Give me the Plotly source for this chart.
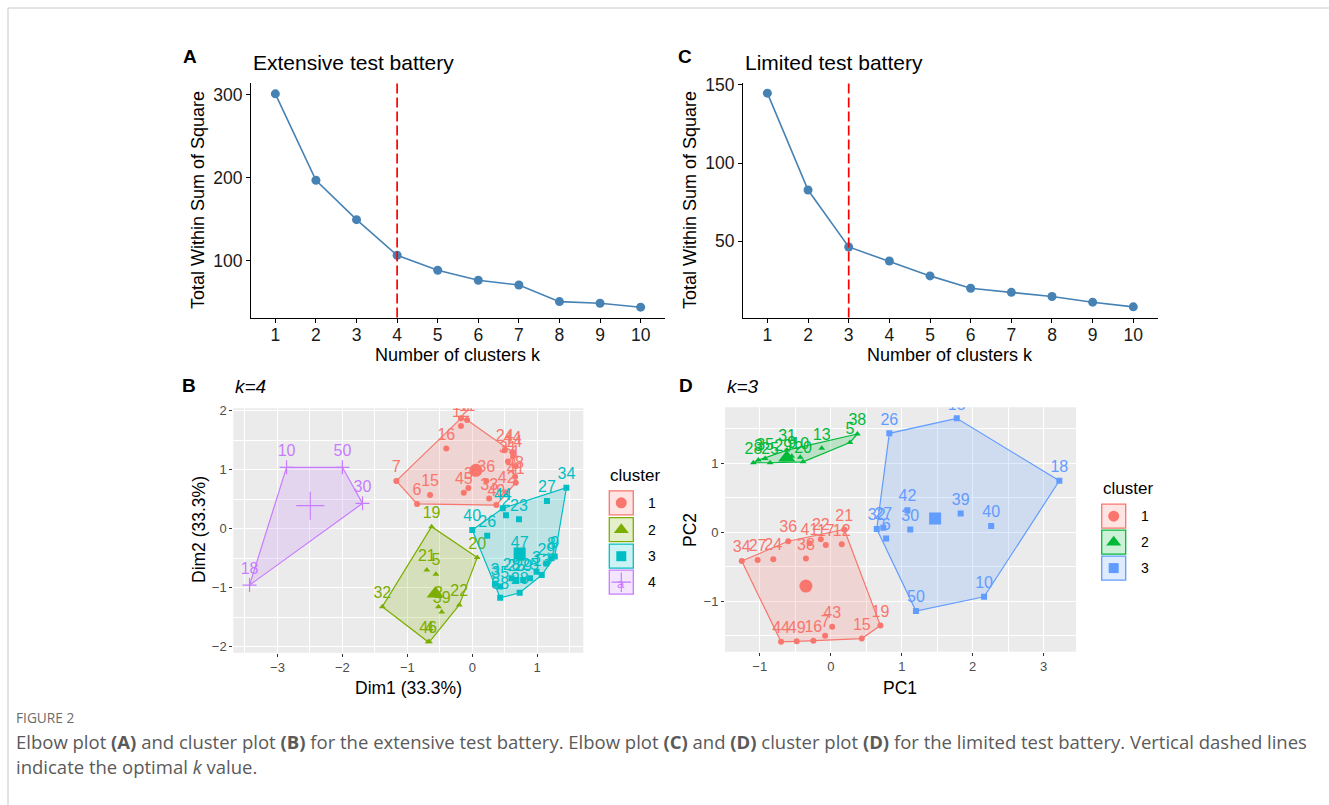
import plotly.graph_objects as go

W, H = 1329, 805

# ---------------- data ----------------
k_values = [1, 2, 3, 4, 5, 6, 7, 8, 9, 10]
wss_extensive = [301.0, 197.0, 149.7, 106.8, 88.8, 76.8, 71.1, 51.1, 49.1, 44.4]
wss_limited = [144.7, 82.8, 46.4, 37.4, 27.9, 20.0, 17.4, 14.7, 11.1, 8.1]
best_k_extensive = 4
best_k_limited = 3

# Panel B (extensive battery, k=4)
b1_x = [-0.174, -0.08, -0.174, -0.40, -1.17, -0.85, -0.65, -0.13, -0.06, 0.215, 0.26, 0.37,
        0.50, 0.62, 0.63, 0.55, 0.67, 0.66, 0.67, 0.53]
b1_y = [1.87, 1.84, 1.74, 1.36, 0.81, 0.42, 0.57, 0.61, 0.69, 0.81, 0.51, 0.40,
        1.33, 1.30, 1.23, 1.14, 1.06, 0.88, 0.78, 0.62]
b1_lab = ["17", "11", "12", "16", "7", "6", "15", "45", "3", "36", "33", "49",
          "24", "44", "14", "31", "1", "48", "41", "42"]

b2_x = [-0.626, 0.077, -0.70, -0.56, -0.52, -0.47, -0.20, -1.385, -0.68, -0.66]
b2_y = [0.034, -0.486, -0.70, -0.77, -1.32, -1.41, -1.29, -1.32, -1.915, -1.915]
b2_lab = ["19", "20", "21", "5", "2", "39", "22", "32", "46", "4"]

b3_x = [1.45, 1.15, 0.72, 0.47, 0.52, 0.0, 0.23, 0.73, 1.22, 1.27, 1.14, 0.99, 1.07,
        0.89, 0.43, 0.43, 0.73, 0.605, 0.68, 0.785, 0.35]
b3_y = [0.695, 0.47, 0.16, 0.345, 0.23, -0.02, -0.12, -0.47, -0.50, -0.47, -0.59, -0.73, -0.785,
        -0.84, -0.98, -1.17, -1.085, -0.84, -0.87, -0.87, -0.93]
b3_lab = ["34", "27", "23", "44", "2", "40", "26", "47", "8", "9", "29", "3", "13",
          "25", "35", "38", "28", "28", "25", "29", "3"]

b4_x = [-2.86, -2.0, -1.69, -3.43]
b4_y = [1.04, 1.04, 0.43, -0.955]
b4_lab = ["10", "50", "30", "18"]

b_cent_x = [0.056, -0.57, 0.73, -2.495]
b_cent_y = [0.99, -1.10, -0.42, 0.39]

# Panel D (limited battery, k=3)
d1_x = [-1.254, -1.03, -0.81, -0.60, -0.35, -0.30, -0.14, -0.07, 0.155, 0.19,
        0.70, 0.437, 0.02, -0.08, -0.245, -0.48, -0.70]
d1_y = [-0.417, -0.40, -0.39, -0.13, -0.38, -0.16, -0.10, -0.185, -0.175, 0.04,
        -1.35, -1.54, -1.37, -1.50, -1.57, -1.58, -1.587]
d1_lab = ["34", "27", "24", "36", "38", "41", "22", "17", "12", "21",
          "19", "15", "43", "7", "16", "49", "44"]

d2_x = [-1.09, -1.02, -0.925, -0.855, -0.67, -0.615, -0.55, -0.43, -0.39, -0.127, 0.27, 0.375]
d2_y = [1.007, 1.046, 1.07, 1.007, 1.05, 1.19, 1.10, 1.085, 1.02, 1.216, 1.30, 1.423]
d2_lab = ["28", "3", "35", "25", "29", "31", "9", "10", "20", "13", "5", "38"]

d3_x = [0.825, 1.775, 3.22, 2.16, 1.20, 0.648, 0.74, 0.78, 1.08, 1.12, 1.83, 2.26]
d3_y = [1.433, 1.65, 0.746, -0.935, -1.14, 0.046, 0.065, -0.09, 0.32, 0.04, 0.27, 0.09]
d3_lab = ["26", "15", "18", "10", "50", "32", "27", "6", "42", "30", "39", "40"]

d_cent_x = [-0.35, -0.62, 1.47]
d_cent_y = [-0.78, 1.08, 0.20]

cluster_names_b = ["1", "2", "3", "4"]
cluster_names_d = ["1", "2", "3"]

# ---------------- styling ----------------
COL_B = ["#F8766D", "#7CAE00", "#00BFC4", "#C77CFF"]
COL_D = ["#F8766D", "#00BA38", "#619CFF"]
SYM_B = ["circle", "triangle-up", "square", "cross-thin"]
SYM_D = ["circle", "triangle-up", "square"]
FONT = "Liberation Sans, Arial, Helvetica, sans-serif"
LINE_BLUE = "#4682B4"


def rgba(hexc, a):
    h = hexc.lstrip("#")
    return "rgba(%d,%d,%d,%s)" % (int(h[0:2], 16), int(h[2:4], 16), int(h[4:6], 16), a)


def hull(xs, ys):
    pts = sorted(set(zip(xs, ys)))
    if len(pts) < 3:
        return pts

    def cross(o, a, b):
        return (a[0] - o[0]) * (b[1] - o[1]) - (a[1] - o[1]) * (b[0] - o[0])
    lower = []
    for p in pts:
        while len(lower) >= 2 and cross(lower[-2], lower[-1], p) <= 0:
            lower.pop()
        lower.append(p)
    upper = []
    for p in reversed(pts):
        while len(upper) >= 2 and cross(upper[-2], upper[-1], p) <= 0:
            upper.pop()
        upper.append(p)
    h = lower[:-1] + upper[:-1]
    return h + [h[0]]


def dx(p0, p1):
    return [p0 / W, p1 / W]


def dy(top, bottom):
    return [1 - bottom / H, 1 - top / H]


def px(x):
    return x / W


def py(y):
    return 1 - y / H


fig = go.Figure()

# ---------------- elbow plots ----------------
fig.add_trace(go.Scatter(x=k_values, y=wss_extensive, mode="lines+markers", xaxis="x", yaxis="y",
                         line=dict(color=LINE_BLUE, width=1.6),
                         marker=dict(color=LINE_BLUE, size=9), hoverinfo="skip"))
fig.add_trace(go.Scatter(x=k_values, y=wss_limited, mode="lines+markers", xaxis="x2", yaxis="y2",
                         line=dict(color=LINE_BLUE, width=1.6),
                         marker=dict(color=LINE_BLUE, size=9), hoverinfo="skip"))

shapes = []
shapes.append(dict(type="line", xref="x", yref="y domain", x0=best_k_extensive, x1=best_k_extensive,
                   y0=0, y1=1, line=dict(color="#FF0000", width=1.7, dash="10px,4px"), layer="above"))
shapes.append(dict(type="line", xref="x2", yref="y2 domain", x0=best_k_limited, x1=best_k_limited,
                   y0=0, y1=1, line=dict(color="#FF0000", width=1.7, dash="10px,4px"), layer="above"))

# ---------------- cluster plots ----------------
def add_cluster(xs, ys, labs, color, sym, xa, ya, msize, tsize):
    h = hull(xs, ys)
    fig.add_trace(go.Scatter(x=[p[0] for p in h], y=[p[1] for p in h], mode="lines", fill="toself",
                             fillcolor=rgba(color, 0.2), line=dict(color=color, width=1.2),
                             xaxis=xa, yaxis=ya, hoverinfo="skip"))
    mk = dict(color=color, size=msize, symbol=sym)
    if sym == "cross-thin":
        mk["line"] = dict(color=color, width=1.2)
        mk["size"] = msize + 4
    fig.add_trace(go.Scatter(x=xs, y=ys, mode="markers+text", text=labs, textposition="top center",
                             textfont=dict(color=color, size=tsize, family=FONT),
                             marker=mk, xaxis=xa, yaxis=ya, hoverinfo="skip"))


def add_centroid(x, y, color, sym, size, xa, ya):
    mk = dict(color=color, size=size, symbol=sym)
    if sym == "cross-thin":
        mk["line"] = dict(color=color, width=1.2)
    fig.add_trace(go.Scatter(x=[x], y=[y], mode="markers", marker=mk, xaxis=xa, yaxis=ya,
                             hoverinfo="skip"))


b_sets = [(b1_x, b1_y, b1_lab), (b2_x, b2_y, b2_lab), (b3_x, b3_y, b3_lab), (b4_x, b4_y, b4_lab)]
for i, (xs, ys, labs) in enumerate(b_sets):
    add_cluster(xs, ys, labs, COL_B[i], SYM_B[i], "x3", "y3", 6, 16)
cent_size_b = [13, 15, 12, 20]
for i in range(4):
    add_centroid(b_cent_x[i], b_cent_y[i], COL_B[i], SYM_B[i], cent_size_b[i], "x3", "y3")

d_sets = [(d1_x, d1_y, d1_lab), (d2_x, d2_y, d2_lab), (d3_x, d3_y, d3_lab)]
for i, (xs, ys, labs) in enumerate(d_sets):
    add_cluster(xs, ys, labs, COL_D[i], SYM_D[i], "x4", "y4", 6, 16)
cent_size_d = [13, 15, 12]
for i in range(3):
    add_centroid(d_cent_x[i], d_cent_y[i], COL_D[i], SYM_D[i], cent_size_d[i], "x4", "y4")

# gray panel backgrounds
for ax in ["3", "4"]:
    shapes.append(dict(type="rect", xref="x%s domain" % ax, yref="y%s domain" % ax, x0=0, x1=1, y0=0, y1=1,
                       fillcolor="#EBEBEB", line=dict(width=0), layer="below"))

# ---------------- legends (pixel overlay axis) ----------------
annotations = []
leg_msize = {"circle": 11, "triangle-up": 13, "square": 10, "cross-thin": 14}


def add_legend(x_left, y_title, y_centers, names, colors, syms):
    annotations.append(dict(x=px(x_left), y=py(y_title), xref="paper", yref="paper", text="cluster",
                            showarrow=False, xanchor="left", yanchor="middle",
                            font=dict(size=17, color="#000000", family=FONT)))
    for yc, nm, col, sym in zip(y_centers, names, colors, syms):
        shapes.append(dict(type="rect", xref="x5", yref="y5", x0=x_left + 1, x1=x_left + 25,
                           y0=yc - 12, y1=yc + 12, fillcolor=rgba(col, 0.2),
                           line=dict(color=col, width=1.3), layer="above"))
        if sym == "cross-thin":
            annotations.append(dict(x=px(x_left + 13), y=py(yc + 1), xref="paper", yref="paper", text="a",
                                    showarrow=False, xanchor="center", yanchor="middle",
                                    font=dict(size=13, color=col, family=FONT)))
        mk = dict(color=col, size=leg_msize[sym], symbol=sym)
        if sym == "cross-thin":
            mk["line"] = dict(color=col, width=1.2)
        fig.add_trace(go.Scatter(x=[x_left + 13], y=[yc], mode="markers", marker=mk,
                                 xaxis="x5", yaxis="y5", cliponaxis=False, hoverinfo="skip"))
        annotations.append(dict(x=px(x_left + 38), y=py(yc), xref="paper", yref="paper", text=nm,
                                showarrow=False, xanchor="left", yanchor="middle",
                                font=dict(size=14, color="#000000", family=FONT)))


add_legend(608.3, 475, [502.8, 529.7, 556.2, 582.2], cluster_names_b, COL_B, SYM_B)
add_legend(1100.7, 488, [516.2, 542.2, 568.1], cluster_names_d, COL_D, SYM_D)

# ---------------- text annotations ----------------
def ann(x, y, text, size, anchor="center", angle=0, color="#000000", family=FONT):
    annotations.append(dict(x=px(x), y=py(y), xref="paper", yref="paper", text=text, showarrow=False,
                            xanchor=anchor, yanchor="middle", textangle=angle,
                            font=dict(size=size, color=color, family=family)))


ann(190, 56, "<b>A</b>", 19)
ann(251, 63, "Extensive test battery", 21, "left")
ann(685, 56, "<b>C</b>", 19)
ann(743, 63, "Limited test battery", 21, "left")
ann(198, 200, "Total Within Sum of Square", 18, angle=-90)
ann(458, 355, "Number of clusters k", 18)
ann(690, 200, "Total Within Sum of Square", 18, angle=-90)
ann(950, 355, "Number of clusters k", 18)

ann(189, 386, "<b>B</b>", 19)
ann(233, 387, "<i>k=4</i>", 19, "left")
ann(686, 385, "<b>D</b>", 19)
ann(725, 387, "<i>k=3</i>", 19, "left")
ann(408, 688, "Dim1 (33.3%)", 17.5)
ann(199, 530, "Dim2 (33.3%)", 17.5, angle=-90)
ann(900, 688, "PC1", 17.5)
ann(690, 530, "PC2", 17.5, angle=-90)

CAP = "Open Sans, Noto Sans, sans-serif"
ann(14, 717, "FIGURE 2", 13.7, "left", color="#6b6b6b", family=CAP)
ann(14, 741, "Elbow plot <b>(A)</b> and cluster plot <b>(B)</b> for the extensive test battery. "
             "Elbow plot <b>(C)</b> and <b>(D)</b> cluster plot <b>(D)</b> for the limited test battery. "
             "Vertical dashed lines", 18.5, "left", color="#5a5a5a", family=CAP)
ann(14, 766, "indicate the optimal <i>k</i> value.", 18.5, "left", color="#5a5a5a", family=CAP)

# frame lines
shapes.append(dict(type="line", xref="paper", yref="paper", x0=px(8), x1=1, y0=py(8), y1=py(8),
                   line=dict(color="#c8c8c8", width=1)))
shapes.append(dict(type="line", xref="paper", yref="paper", x0=px(8), x1=px(8), y0=py(8), y1=0,
                   line=dict(color="#c8c8c8", width=1)))

# ---------------- axes ----------------
elbow_axis = dict(showline=True, linecolor="#000000", linewidth=1.2, ticks="outside", ticklen=4,
                  tickcolor="#000000", tickwidth=1.1, showgrid=False, zeroline=False,
                  tickfont=dict(size=17.5, color="#1a1a1a", family=FONT))
clus_axis = dict(showline=False, ticks="outside", ticklen=3, tickcolor="#333333", tickwidth=1,
                 showgrid=True, gridcolor="#FFFFFF", gridwidth=1.2, zeroline=False,
                 tickmode="linear", tick0=0, dtick=1,
                 minor=dict(tick0=0.5, dtick=1, showgrid=True, gridcolor="#FFFFFF", gridwidth=0.6),
                 tickfont=dict(size=13, color="#4D4D4D", family=FONT))

fig.update_layout(
    width=W, height=H, autosize=False,
    margin=dict(l=0, r=0, t=0, b=0, pad=0, autoexpand=False),
    paper_bgcolor="#FFFFFF", plot_bgcolor="rgba(0,0,0,0)",
    showlegend=False,
    xaxis=dict(elbow_axis, domain=dx(251, 665), range=[0.4, 10.6], tickvals=k_values, anchor="y",
               ticklabelstandoff=-3),
    yaxis=dict(elbow_axis, domain=dy(83, 317.5), range=[32, 314], tickvals=[100, 200, 300], anchor="x"),
    xaxis2=dict(elbow_axis, domain=dx(743, 1157.7), range=[0.4, 10.6], tickvals=k_values, anchor="y2",
                ticklabelstandoff=-3),
    yaxis2=dict(elbow_axis, domain=dy(83, 317.5), range=[1.3, 151.2], tickvals=[50, 100, 150], anchor="x2"),
    xaxis3=dict(clus_axis, domain=dx(233.3, 583.3), range=[-3.68, 1.71], anchor="y3"),
    yaxis3=dict(clus_axis, domain=dy(408.3, 652.7), range=[-2.10, 2.04], anchor="x3"),
    xaxis4=dict(clus_axis, domain=dx(725, 1076), range=[-1.49, 3.455], anchor="y4"),
    yaxis4=dict(clus_axis, domain=dy(407.3, 651.7), range=[-1.73, 1.81], anchor="x4"),
    xaxis5=dict(domain=[0, 1], range=[0, W], visible=False, anchor="y5"),
    yaxis5=dict(domain=[0, 1], range=[H, 0], visible=False, anchor="x5"),
    shapes=shapes,
    annotations=annotations,
)

fig.write_html("out.html", config={"displayModeBar": False},
               post_script="document.documentElement.style.margin='0px';document.body.style.margin='0px';")
